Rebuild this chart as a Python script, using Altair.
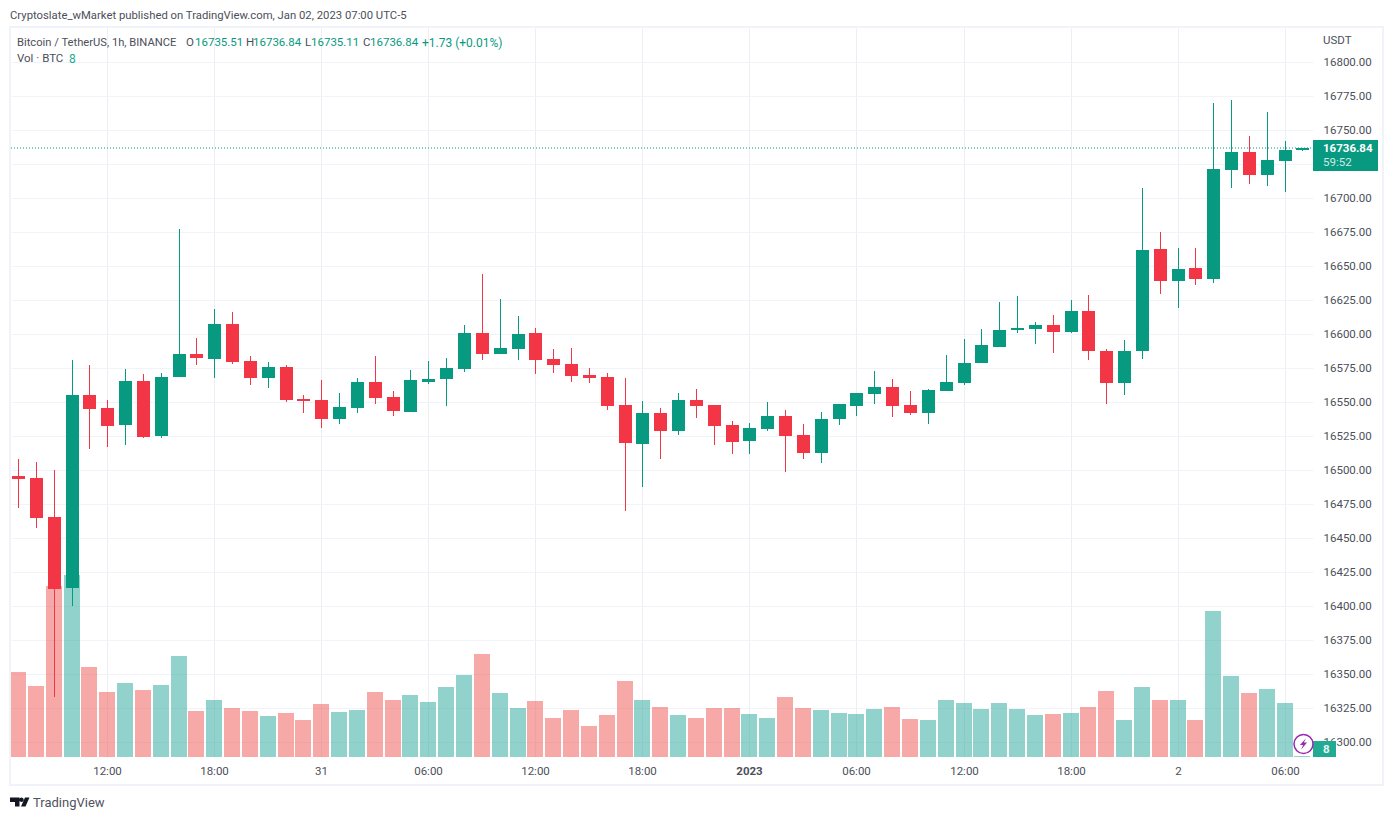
import altair as alt
import pandas as pd

opens = [16495.8,16494.4,16465.7,16413.8,16555.4,16545.8,16533.3,16565.7,16525.2,16568.6,
         16585.5,16581.9,16607.6,16580.4,16567.9,16576.0,16552.4,16551.7,16537.7,16545.8,
         16565.0,16553.9,16542.9,16565.0,16567.2,16574.5,16601.0,16585.6,16589.2,16601.0,
         16581.9,16578.2,16570.1,16568.6,16548.0,16519.4,16542.2,16528.9,16551.7,16548.0,
         16533.3,16521.6,16530.4,16540.0,16526.0,16512.8,16537.7,16547.3,16556.1,16561.3,
         16548.0,16542.2,16558.3,16564.2,16579.0,16590.7,16603.2,16603.9,16606.9,16601.7,
         16617.2,16587.7,16564.2,16587.7,16662.7,16639.2,16648.8,16640.7,16720.8,16734.1,
         16717.2,16727.5,16735.51]
closes = [16493.6,16465.0,16412.8,16555.4,16545.1,16532.6,16565.7,16524.5,16568.6,16585.5,
          16582.6,16607.6,16579.7,16567.9,16576.0,16551.7,16551.0,16537.7,16546.6,16565.0,
          16553.2,16543.6,16566.4,16567.2,16575.2,16601.0,16585.6,16590.0,16600.2,16581.1,
          16577.4,16569.4,16567.9,16547.3,16520.1,16542.2,16528.9,16551.7,16547.3,16532.6,
          16520.8,16531.1,16540.0,16525.2,16512.8,16537.7,16548.8,16556.9,16561.3,16547.3,
          16542.2,16559.1,16565.0,16579.0,16592.2,16603.2,16604.7,16606.9,16601.7,16617.2,
          16587.7,16564.2,16587.7,16662.0,16639.2,16648.0,16640.7,16721.6,16734.1,16717.2,
          16728.2,16735.5,16736.84]
highs = [16508.3,16506.1,16500.2,16581.1,16577.4,16551.7,16574.5,16570.8,16571.6,16677.5,
         16597.3,16618.6,16616.4,16584.1,16579.7,16577.4,16555.4,16566.4,16556.9,16567.9,
         16584.1,16558.3,16573.8,16580.4,16582.6,16606.9,16644.4,16626.0,16613.5,16604.7,
         16589.2,16590.0,16575.2,16571.6,16567.9,16551.0,16545.8,16556.9,16559.8,16548.0,
         16536.3,16534.8,16550.2,16544.4,16534.1,16542.9,16548.8,16556.9,16573.0,16567.2,
         16558.3,16559.8,16584.9,16596.6,16604.0,16623.8,16628.2,16609.1,16614.2,16625.2,
         16628.9,16589.2,16595.8,16707.6,16675.2,16663.5,16663.5,16770.1,16772.3,16745.8,
         16763.5,16742.2,16736.84]
lows = [16472.5,16457.8,16333.0,16400.5,16515.3,16516.8,16518.3,16523.8,16523.8,16568.6,
        16577.4,16567.9,16578.2,16562.8,16560.6,16550.2,16542.0,16531.1,16534.1,16542.2,
        16548.8,16540.0,16542.9,16563.5,16547.3,16572.3,16581.1,16585.6,16581.1,16570.8,
        16571.6,16565.0,16564.2,16544.4,16470.1,16487.7,16508.3,16526.0,16538.5,16518.6,
        16512.0,16512.0,16528.9,16498.8,16508.3,16505.4,16533.3,16540.0,16548.8,16539.2,
        16540.7,16534.1,16558.3,16562.8,16578.9,16590.7,16601.0,16592.9,16586.3,16601.0,
        16581.1,16548.8,16555.2,16581.9,16629.6,16619.4,16636.3,16637.8,16707.6,16710.5,
        16709.0,16704.7,16735.11]
volumes_btc = [680,568,1368,1456,720,520,592,536,576,808,
               368,456,392,368,328,352,296,424,360,376,
               520,456,496,440,560,656,824,512,392,448,
               312,376,248,336,608,456,400,336,312,392,
               392,344,312,480,392,376,352,344,384,400,
               304,296,456,432,384,432,384,336,344,352,
               400,528,296,560,456,456,296,1168,648,512,
               544,432,8]

price_ticks = list(range(16300, 16801, 25))
time_tick_index = [5, 11, 17, 23, 29, 35, 41, 47, 53, 59, 65, 71]
time_tick_labels = ["12:00", "18:00", "31", "06:00", "12:00", "18:00", "2023",
                    "06:00", "12:00", "18:00", "2", "06:00"]

last_price = 16736.84
GREEN, RED = "#089981", "#f23645"
VOL_GREEN, VOL_RED = "#26a69a", "#ef5350"
FONT = "Roboto"
INK = "#4c4f5a"

df = pd.DataFrame({"i": range(len(opens)), "open": opens, "close": closes,
                   "high": highs, "low": lows, "vol": volumes_btc})
df["dir"] = ["up" if c >= o else "down" for o, c in zip(opens, closes)]

W, H = 1302, 729
x_scale = alt.Scale(domain=[-0.392, 72.59], round=True, nice=False, zero=False, padding=0)
price_scale = alt.Scale(domain=[16289.2, 16825.2], round=True, nice=False, zero=False, padding=0)
vol_scale = alt.Scale(domain=[0, 5832], nice=False, padding=0)

labels_js = "[" + ",".join(f"'{s}'" for s in time_tick_labels) + "]"
ticks_js = "[" + ",".join(str(v) for v in time_tick_index) + "]"
x_axis = alt.Axis(values=time_tick_index, title=None, domain=False, ticks=False,
                  grid=True, gridColor="#eceef3", gridWidth=1,
                  labelExpr=f"{labels_js}[indexof({ticks_js}, datum.value)]",
                  labelFont=FONT, labelFontSize=11.5, labelColor=INK, labelPadding=8,
                  labelFlush=False, labelOverlap=False,
                  labelFontWeight=alt.condition("datum.value == 41", alt.value("bold"), alt.value("normal")))
y_axis = alt.Axis(orient="right", values=price_ticks, format=".2f", title=None,
                  domain=False, ticks=False, grid=True, gridColor="#f0f3fa", gridWidth=1,
                  labelFont=FONT, labelFontSize=11.5, labelColor=INK, labelPadding=10,
                  labelOverlap=False, labelFlush=False)

X = alt.X("i:Q", scale=x_scale, axis=x_axis)

volume = alt.Chart(df).mark_bar(size=16, xOffset=0, opacity=0.5).encode(
    x=X,
    y=alt.Y("vol:Q", scale=vol_scale, axis=None),
    color=alt.Color("dir:N", scale=alt.Scale(domain=["up", "down"], range=[VOL_GREEN, VOL_RED]), legend=None),
)
candle_color = alt.Color("dir:N", scale=alt.Scale(domain=["up", "down"], range=[GREEN, RED]), legend=None)
wicks = alt.Chart(df).mark_rule(strokeWidth=1, xOffset=0.5).encode(
    x=X,
    y=alt.Y("high:Q", scale=price_scale, axis=y_axis),
    y2="low:Q",
    color=candle_color,
)
bodies = alt.Chart(df).mark_bar(size=13, xOffset=0.5).encode(
    x=X,
    y=alt.Y("open:Q", scale=price_scale, axis=None),
    y2="close:Q",
    color=candle_color,
)
one = pd.DataFrame({"p": [last_price]})
price_line = alt.Chart(one).mark_rule(strokeWidth=1, strokeDash=[1, 2], color=GREEN).encode(
    x=alt.value(0), x2=alt.value(W),
    y=alt.Y("p:Q", scale=price_scale, axis=None),
)


def gx(v):
    return v - 11


def gy(v):
    return v - 28


def box(x0, y0, x1, y1, **kw):
    return alt.Chart(one).mark_rect(**kw).encode(
        x=alt.value(gx(x0)), x2=alt.value(gx(x1)), y=alt.value(gy(y0)), y2=alt.value(gy(y1)))


def text(s, x, y, color=INK, size=11.5, weight="normal"):
    return alt.Chart(one).mark_text(text=s, align="left", baseline="middle", font=FONT,
                                    fontSize=size, fontWeight=weight, color=color).encode(
        x=alt.value(gx(x)), y=alt.value(gy(y)))


def glyph(path, x, y, size, **kw):
    return alt.Chart(one).mark_point(shape=path, size=size, **kw).encode(
        x=alt.value(gx(x)), y=alt.value(gy(y)))


TV_LOGO = ("M-1,-0.45L-0.05,-0.45L-0.05,0.45L-0.5,0.45L-0.5,0L-1,0Z"
           "M0.37,-0.23A0.22,0.22 0 1 1 -0.07,-0.23A0.22,0.22 0 1 1 0.37,-0.23Z"
           "M0.5,-0.45L0.95,-0.45L0.55,0.45L0.1,0.45Z")
BOLT = "M0.35,-0.8L-0.5,0.15L-0.05,0.15L-0.35,0.8L0.5,-0.2L0.05,-0.2Z"

overlays = [
    box(10, 27, 1383, 785, fillOpacity=0, stroke="#f0f3fa", strokeWidth=2),
    text("Cryptoslate_wMarket published on TradingView.com, Jan 02, 2023 07:00 UTC-5", 10, 15.5, size=11.3),
    text("Bitcoin / TetherUS, 1h, BINANCE", 17, 42.5, size=11.2),
    text("O", 186, 42.5), text("16735.51", 195, 42.5, GREEN),
    text("H", 246, 42.5), text("16736.84", 253, 42.5, GREEN),
    text("L", 305, 42.5), text("16735.11", 311, 42.5, GREEN),
    text("C", 363, 42.5), text("16736.84", 370, 42.5, GREEN),
    text("+1.73 (+0.01%)", 422, 42.5, GREEN, size=12),
    text("Vol · BTC", 17, 59), text("8", 69, 59, "#22ab94", size=12),
    text("USDT", 1323, 41),
    box(1313, 140, 1378, 171, fill=GREEN),
    text(f"{last_price:.2f}", 1323, 149, "#ffffff", 11.5, "bold"),
    text("59:52", 1323, 163, "#cdebe5"),
    box(1313, 741, 1336, 757, fill="#22ab94"),
    text("8", 1323, 750, "#e6f5f2", 11.5, "bold"),
    glyph("circle", 1303.5, 744, 360, filled=True, fill="#ffffff", stroke="#9c27b0", strokeWidth=1.5, opacity=1),
    glyph(BOLT, 1303.5, 744, 200, filled=True, fill="#9c27b0", strokeWidth=0, opacity=1),
    glyph(TV_LOGO, 20, 802, 400, filled=True, fill="#131722", strokeWidth=0, opacity=1),
    text("TradingView", 33, 803, "#50535e", 13),
]

chart = alt.layer(volume, wicks, bodies, price_line, *overlays).resolve_scale(
    y="independent", color="independent"
).properties(
    width=W, height=H,
    padding={"left": 3, "top": 20, "right": 72, "bottom": 60},
    autosize=alt.AutoSizeParams(type="none"),
    background="#ffffff",
).configure_view(stroke=None)

chart.save("out.html", embed_options={"renderer": "svg", "actions": False})
